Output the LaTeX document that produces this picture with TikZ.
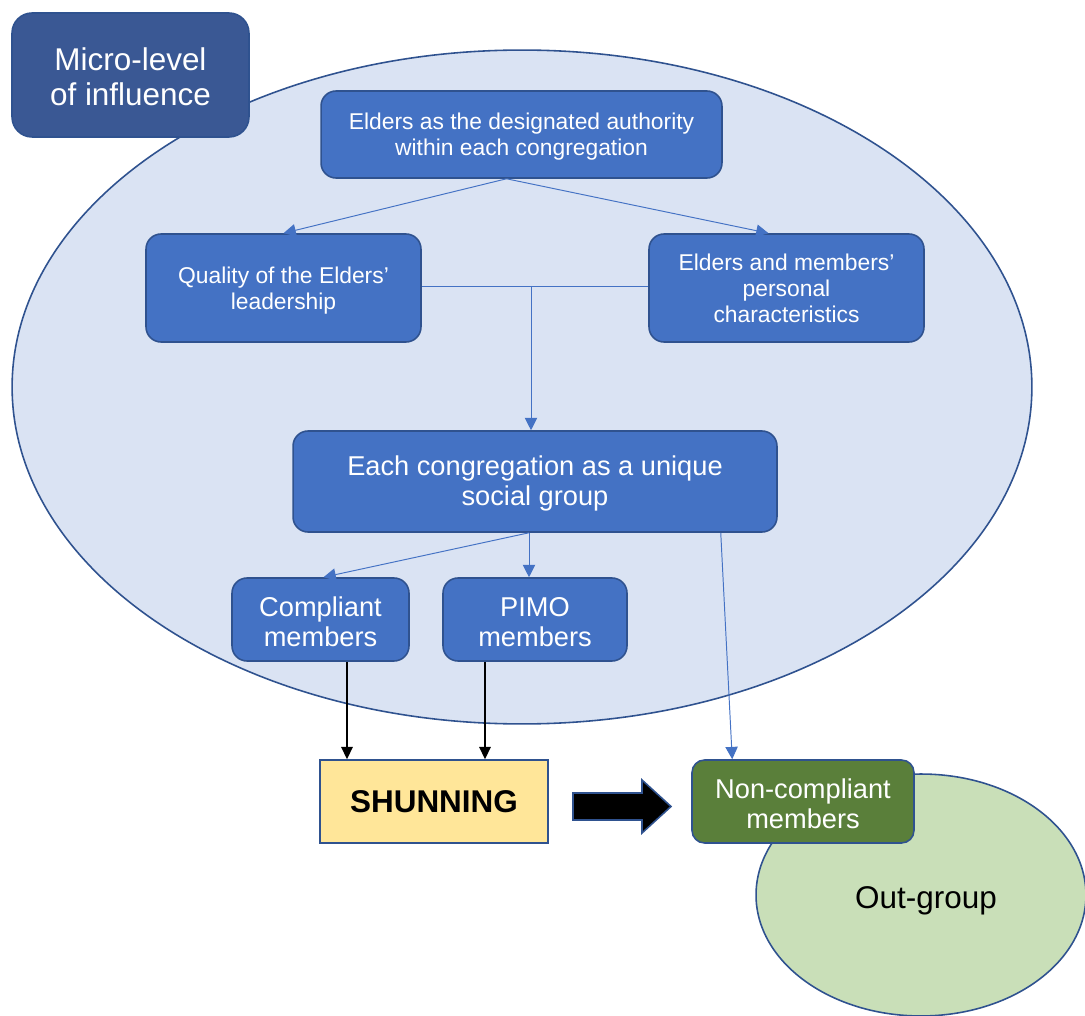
\documentclass[tikz,border=0pt]{standalone}
\usepackage{fontspec}
\setmainfont{Liberation Sans}
\usetikzlibrary{arrows.meta,calc}

\definecolor{bluefill}{HTML}{4472C4}
\definecolor{blueline}{HTML}{2F528F}
\definecolor{paleblue}{HTML}{DAE3F3}
\definecolor{darkblue}{HTML}{3A5894}
\definecolor{gold}{HTML}{FFE699}
\definecolor{leaf}{HTML}{5A7F3A}
\definecolor{palegreen}{HTML}{C9DFB8}

% a strut that lowers the text block inside a box by half its height
\newcommand{\lowerby}[1]{\rule{0pt}{\dimexpr\fontcharht\font`M+#1\relax}}

\tikzset{
  box/.style={draw=blueline, line width=0.9pt, fill=bluefill, rounded corners=0.3cm,
    text=white, align=center, inner sep=0pt},
  smalltext/.style={font=\fontsize{13}{14.8}\selectfont},
  bigtext/.style={font=\fontsize{15.5}{17.3}\selectfont},
  link/.style={draw=bluefill, line width=0.55pt, -{Triangle[length=7pt,width=7pt]}},
  blacklink/.style={draw=black, line width=1.1pt, -{Triangle[length=7pt,width=6.5pt]}},
}

\begin{document}
\begin{tikzpicture}[x=0.02cm, y=-0.02cm]
\useasboundingbox (0,0) rectangle (1085,1016);

% congregation ellipse
\draw[blueline, line width=0.9pt, fill=paleblue] (522,387) ellipse [x radius=10.2cm, y radius=6.74cm];

% out-group ellipse
\draw[blueline, line width=0.9pt, fill=palegreen] (921,895) ellipse [x radius=3.3cm, y radius=2.42cm];
\node (outgroup) at (926,901) {\fontsize{17.9}{20}\selectfont Out-group};

% title box
\node[box, fill=darkblue, rounded corners=0.4cm, minimum width=4.74cm, minimum height=2.48cm,
  font=\fontsize{17.9}{19.8}\selectfont] (micro) at (130.5,75) {\lowerby{3pt}Micro-level\\of influence};

% boxes inside the congregation
\node[box, smalltext, minimum width=8.02cm, minimum height=1.74cm] (elders) at (521.5,134.5)
  {\lowerby{3pt}Elders as the designated authority\\within each congregation};
\node[box, smalltext, minimum width=5.5cm, minimum height=2.16cm] (quality) at (283.5,288)
  {\lowerby{3pt}Quality of the Elders'\\leadership};
\node[box, smalltext, minimum width=5.5cm, minimum height=2.16cm] (traits) at (786.5,288)
  {\lowerby{1pt}Elders and members'\\personal\\characteristics};
\node[box, bigtext, minimum width=9.68cm, minimum height=2.02cm] (cong) at (535,481.5)
  {\lowerby{3pt}Each congregation as a unique\\social group};
\node[box, bigtext, minimum width=3.54cm, minimum height=1.66cm] (compliant) at (320.5,619.5)
  {\lowerby{3pt}Compliant\\members};
\node[box, bigtext, minimum width=3.68cm, minimum height=1.66cm] (pimo) at (535,619.5)
  {\lowerby{3pt}PIMO\\members};

% outcome boxes
\node[draw=blueline, line width=0.9pt, fill=gold, minimum width=4.56cm, minimum height=1.66cm,
  font=\fontsize{17.9}{20}\selectfont\bfseries] (shun) at (434,801.5) {SHUNNING};
\node[box, bigtext, fill=leaf, rounded corners=0.25cm, minimum width=4.44cm, minimum height=1.66cm]
  (nonc) at (803,801.5) {\lowerby{3pt}Non-compliant\\members};

% connectors
\coordinate (ej) at ($(elders.south)+(-15,0)$);
\draw[link] (ej) -- (quality.north);
\draw[link] (ej) -- ($(traits.north)+(-18,0)$);
\coordinate (mid) at ($(quality.east)!0.5!(traits.west)+(-4,-2)$);
\draw[bluefill, line width=0.55pt] ($(quality.east)+(0,-2)$) -- ($(traits.west)+(0,-2)$);
\draw[link] (mid) -- (mid |- cong.north);
\coordinate (cj) at ($(cong.south)+(-6,0)$);
\draw[link] (cj) -- ($(compliant.north)+(3,0)$);
\draw[link] (cj) -- (cj |- pimo.north);
\draw[link] ($(cong.south east)+(-57,0)$) -- ($(nonc.north west)+(41,0)$);

\coordinate (cs) at ($(compliant.south)+(26.5,0)$);
\draw[blacklink] (cs) -- (cs |- shun.north);
\coordinate (ps) at ($(pimo.south)+(-50,0)$);
\draw[blacklink] (ps) -- (ps |- shun.north);

% block arrow from shunning to non-compliant members
\draw[blueline, line width=0.9pt, fill=black]
  (573,793) -- (642,793) -- (642,780) -- (671,806.5) -- (642,833) -- (642,820) -- (573,820) -- cycle;
\end{tikzpicture}
\end{document}
